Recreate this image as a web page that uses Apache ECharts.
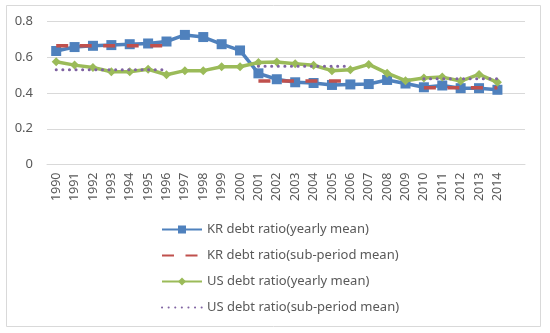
<!DOCTYPE html>
<html>
<head>
<meta charset="utf-8">
<script src="https://cdn.jsdelivr.net/npm/echarts@6/dist/echarts.min.js"></script>
<style>html,body{margin:0;padding:0;background:#fff;}#c{width:550px;height:333px;}</style>
</head>
<body>
<div id="c"></div>
<script>
// Years (an extra empty slot at the end, as in the reference plot area)
const categories = ['1990','1991','1992','1993','1994','1995','1996','1997','1998','1999','2000','2001','2002','2003','2004','2005','2006','2007','2008','2009','2010','2011','2012','2013','2014',''];
const krYearly = [0.635,0.657,0.664,0.668,0.673,0.677,0.688,0.725,0.713,0.673,0.638,0.51,0.477,0.46,0.456,0.445,0.448,0.45,0.473,0.453,0.432,0.442,0.427,0.427,0.418,null];
const krSub = [0.665,0.665,0.665,0.665,0.665,0.665,0.665,null,null,null,null,0.467,0.467,0.467,0.467,0.467,0.467,null,null,null,0.43,0.43,0.43,0.43,0.43,null];
const usYearly = [0.575,0.556,0.543,0.519,0.519,0.533,0.502,0.525,0.525,0.547,0.547,0.571,0.573,0.564,0.555,0.525,0.53,0.56,0.511,0.469,0.484,0.489,0.467,0.504,0.46,null];
const usSub = [0.53,0.53,0.53,0.53,0.53,0.53,0.53,null,null,null,null,0.55,0.55,0.55,0.55,0.55,0.55,null,null,null,0.48,0.48,0.48,0.48,0.48,null];
const yTicks = {min:0, max:0.8, interval:0.2};
const seriesNames = ['KR debt ratio(yearly mean)','KR debt ratio(sub-period mean)','US debt ratio(yearly mean)','US debt ratio(sub-period mean)'];

const FONT = '"Noto Sans", sans-serif';
const chart = echarts.init(document.getElementById('c'), null, {renderer:'canvas'});
chart.setOption({
  backgroundColor:'#fff',
  animation:false,
  textStyle:{fontFamily:FONT},
  graphic:[{type:'rect', shape:{x:6.5,y:5.5,width:534,height:321}, style:{fill:'none', stroke:'#D9D9D9', lineWidth:1}, silent:true, z:-1}],
  grid:{left:47, right:25, top:21.5, bottom:168.5},
  xAxis:{
    type:'category', data:categories, boundaryGap:true,
    axisLine:{lineStyle:{color:'#D9D9D9', width:1}},
    axisTick:{show:false},
    axisLabel:{rotate:90, interval:0, color:'#595959', fontSize:12.5, margin:8, fontFamily:FONT}
  },
  yAxis:{
    type:'value', min:yTicks.min, max:yTicks.max, interval:yTicks.interval,
    axisLine:{show:false}, axisTick:{show:false},
    splitLine:{lineStyle:{color:'#D9D9D9', width:1}},
    axisLabel:{color:'#595959', fontSize:13, margin:14, fontFamily:FONT}
  },
  legend:{
    orient:'vertical', left:156, top:218, itemWidth:40, itemHeight:10, itemGap:13,
    textStyle:{color:'#595959', fontSize:13, fontFamily:FONT},
    data:[
      {name:seriesNames[0]},
      {name:seriesNames[1], itemStyle:{opacity:0}},
      {name:seriesNames[2]},
      {name:seriesNames[3], itemStyle:{opacity:0}}
    ]
  },
  series:[
    {name:seriesNames[0], type:'line', data:krYearly, color:'#4F81BD',
     lineStyle:{width:3.5, color:'#4F81BD'}, symbol:'rect', symbolSize:10, itemStyle:{color:'#4F81BD'}, z:2},
    {name:seriesNames[1], type:'line', data:krSub, color:'#C0504D',
     lineStyle:{width:3.5, type:[12,11.5], color:'#C0504D', cap:'butt'}, symbol:'none', showSymbol:false, z:3},
    {name:seriesNames[2], type:'line', data:usYearly, color:'#9BBB59',
     lineStyle:{width:3.5, color:'#9BBB59'}, symbol:'diamond', symbolSize:9, itemStyle:{color:'#9BBB59'}, z:4},
    {name:seriesNames[3], type:'line', data:usSub, color:'#8064A2',
     lineStyle:{width:3, type:[0.1,6.5], cap:'round', color:'#8064A2'}, symbol:'none', showSymbol:false, z:5}
  ]
});
</script>
</body>
</html>
